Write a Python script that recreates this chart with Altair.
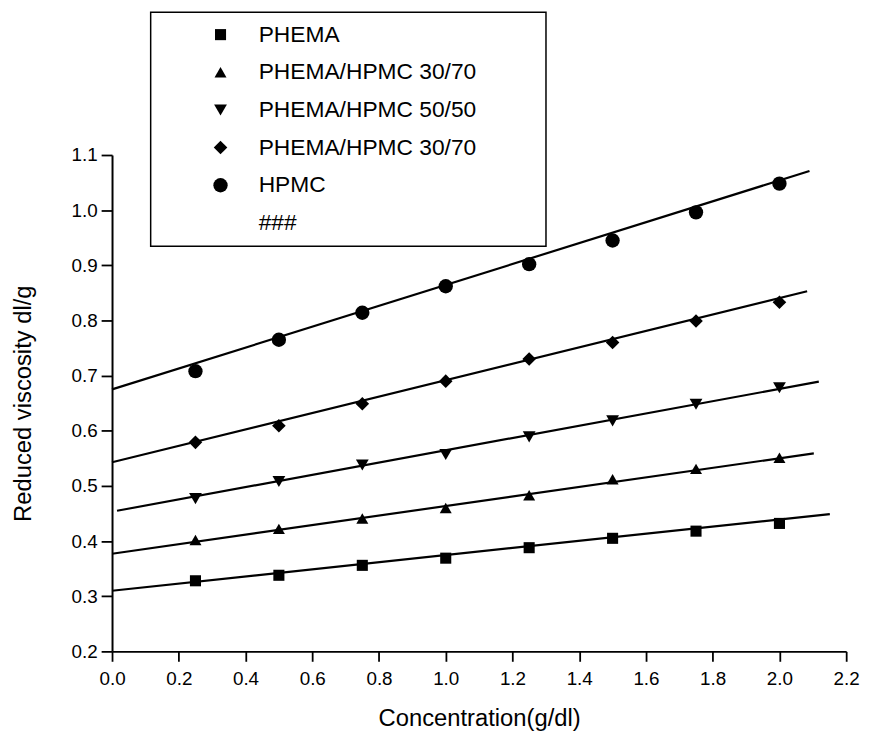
import altair as alt
import pandas as pd

# ---- data ----
conc = [0.25, 0.5, 0.75, 1.0, 1.25, 1.5, 1.75, 2.0]
phema = [0.328, 0.338, 0.356, 0.369, 0.388, 0.405, 0.418, 0.432]
blend_30_70_a = [0.402, 0.422, 0.441, 0.460, 0.483, 0.512, 0.531, 0.551]
blend_50_50 = [0.477, 0.508, 0.538, 0.557, 0.589, 0.618, 0.648, 0.678]
blend_30_70_b = [0.579, 0.609, 0.649, 0.690, 0.730, 0.760, 0.799, 0.833]
hpmc = [0.708, 0.765, 0.814, 0.862, 0.902, 0.945, 0.996, 1.048]

series_keys = ["s1", "s2", "s3", "s4", "s5", "s6"]
series_names = ["PHEMA", "PHEMA/HPMC 30/70", "PHEMA/HPMC 50/50",
                "PHEMA/HPMC 30/70", "HPMC", "###"]
series_shapes = ["square", "triangle-up", "triangle-down", "diamond",
                 "circle", "M0,0"]
series_sizes = [125, 230, 230, 240, 165, 1]

# fitted straight lines: start x, start y, end x, end y
fit_x0 = [0.0, 0.0, 0.015, 0.0, 0.0]
fit_y0 = [0.310, 0.377, 0.455, 0.543, 0.675]
fit_x1 = [2.151, 2.103, 2.118, 2.083, 2.090]
fit_y1 = [0.449, 0.559, 0.689, 0.853, 1.071]

x_ticks = [round(i * 0.1, 1) for i in range(23)]
y_ticks = [round(0.2 + i * 0.05, 2) for i in range(19)]

values = [phema, blend_30_70_a, blend_50_50, blend_30_70_b, hpmc]
rows = []
for k, vals in zip(series_keys, values):
    for c, v in zip(conc, vals):
        rows.append({"series": k, "conc": c, "visc": v})
pts = pd.DataFrame(rows)

lrows = []
for k, a, b, c, d in zip(series_keys, fit_x0, fit_y0, fit_x1, fit_y1):
    lrows.append({"series": k, "conc": a, "visc": b})
    lrows.append({"series": k, "conc": c, "visc": d})
lines = pd.DataFrame(lrows)

FONT = "Liberation Sans"

label_expr = " : ".join(
    f"datum.value == '{k}' ? '{n}'" for k, n in zip(series_keys[:-1], series_names[:-1])
) + f" : '{series_names[-1]}'"

xscale = alt.Scale(domain=[0, 2.2], nice=False, zero=False)
yscale = alt.Scale(domain=[0.2, 1.1], nice=False, zero=False)

xaxis = alt.Axis(
    values=x_ticks,
    title="Concentration(g/dl)",
    labelExpr="round(datum.value*10) % 2 == 0 ? format(datum.value, '.1f') : ''",
    tickSize={"condition": {"test": "round(datum.value*10) % 2 == 0", "value": 10}, "value": 6},
    labelOverlap=False,
    labelFlush=False,
    labelPadding=8,
    titlePadding=19,
)
yaxis = alt.Axis(
    values=y_ticks,
    title="Reduced viscosity dl/g",
    labelExpr="round(datum.value*100) % 10 == 0 ? format(datum.value, '.1f') : ''",
    tickSize={"condition": {"test": "round(datum.value*100) % 10 == 0", "value": 11}, "value": 6},
    labelOverlap=False,
    labelFlush=False,
    labelPadding=4,
    titlePadding=36,
)

legend = alt.Legend(
    title=" ",
    titleOrient="right",
    titleFontSize=1,
    titlePadding=59,
    orient="none",
    legendX=39,
    legendY=-144,
    labelExpr=label_expr,
    labelFont=FONT,
    labelFontSize=23,
    labelColor="black",
    labelLimit=400,
    strokeColor="black",
    fillColor="white",
    padding=11,
    rowPadding=14,
    symbolOffset=48,
    labelOffset=27,
    symbolFillColor="black",
    symbolStrokeWidth=0,
)

line_layer = alt.Chart(lines).mark_line(color="black", strokeWidth=2.2).encode(
    x=alt.X("conc:Q", scale=xscale, axis=xaxis),
    y=alt.Y("visc:Q", scale=yscale, axis=yaxis),
    detail="series:N",
)

point_layer = alt.Chart(pts).mark_point(filled=True, color="black", opacity=1).encode(
    x=alt.X("conc:Q", scale=xscale),
    y=alt.Y("visc:Q", scale=yscale),
    size=alt.Size("series:N", scale=alt.Scale(domain=series_keys, range=series_sizes), legend=legend),
    shape=alt.Shape("series:N", scale=alt.Scale(domain=series_keys, range=series_shapes), legend=legend),
)

chart = alt.layer(line_layer, point_layer).properties(
    width=741,
    height=501,
    autosize=alt.AutoSizeParams(type="none"),
    padding={"left": 105, "top": 145, "right": 20, "bottom": 78},
).configure_view(
    stroke=None
).configure_axis(
    grid=False,
    domainColor="black",
    domainWidth=2,
    tickColor="black",
    tickWidth=1.8,
    labelFont=FONT,
    labelFontSize=19,
    labelColor="black",
    titleFont=FONT,
    titleFontSize=24,
    titleFontWeight="normal",
    titleColor="black",
).configure_legend(
    strokeWidth=1.5,
)

chart.save("out.html", embed_options={"renderer": "svg", "actions": False})
